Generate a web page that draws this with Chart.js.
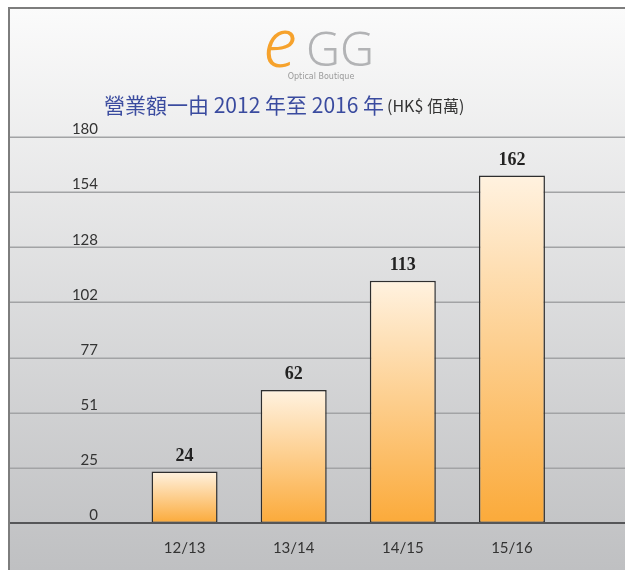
<!DOCTYPE html>
<html>
<head>
<meta charset="utf-8">
<script src="https://cdn.jsdelivr.net/npm/chart.js@4"></script>
<style>
  body { margin: 0; background: #fff; }
</style>
</head>
<body>
<canvas id="chart" width="625" height="570"></canvas>
<script>
// data
const years = ["12/13", "13/14", "14/15", "15/16"];
const turnover = [24, 62, 113, 162];
const yTickLabels = ["0", "25", "51", "77", "102", "128", "154", "180"];
const yMax = 180;

const titleMain = "營業額一由 2012 年至 2016 年";
const titleUnit = "(HK$ 佰萬)";

function barGradient(ctx) {
    const chart = ctx.chart;
    if (!chart.chartArea || !chart.scales.y) return "#fcc77a";
    const y = chart.scales.y;
    const value = ctx.dataset.data[ctx.dataIndex];
    const top = y.getPixelForValue(value);
    const bottom = y.getPixelForValue(0);
    const g = chart.ctx.createLinearGradient(0, top, 0, bottom);
    g.addColorStop(0, "#fff2e0");
    g.addColorStop(1, "#fbaa3a");
    return g;
}

// background, frame, gridlines, logo and title
const backdrop = {
    id: "backdrop",
    beforeDraw(chart) {
        const c = chart.ctx;
        const y = chart.scales.y;
        c.save();
        const g = c.createLinearGradient(0, 7, 0, 570);
        g.addColorStop(0, "#fbfbfb");
        g.addColorStop(1, "#bfc0c2");
        c.fillStyle = g;
        c.fillRect(8, 7, 617, 563);

        c.strokeStyle = "#7d7d7d";
        c.lineWidth = 2;
        c.beginPath();
        c.moveTo(9, 570);
        c.lineTo(9, 8);
        c.lineTo(625, 8);
        c.stroke();

        c.strokeStyle = "#a2a3a5";
        c.lineWidth = 1.5;
        y.ticks.forEach((t, i) => {
            if (i === 0) return;
            const py = Math.round(y.getPixelForValue(t.value)) + 0.25;
            c.beginPath();
            c.moveTo(10, py);
            c.lineTo(625, py);
            c.stroke();
        });

        // logo
        c.textBaseline = "alphabetic";
        c.textAlign = "left";
        c.fillStyle = "#f6a22c";
        c.font = "italic 300 68px 'Noto Sans'";
        c.fillText("e", 263, 67);
        c.fillStyle = "#b2b3b5";
        c.font = "300 47px 'Noto Sans'";
        c.fillText("GG", 306, 66);
        c.fillStyle = "#9a9a9a";
        c.font = "8px 'DejaVu Sans'";
        c.textAlign = "center";
        c.fillText("Optical Boutique", 321, 79);

        // title
        c.textAlign = "left";
        c.textBaseline = "middle";
        c.fillStyle = "#3a4b9f";
        c.font = "21px 'Noto Sans CJK TC'";
        c.fillText(titleMain, 104, 105);
        const w = c.measureText(titleMain).width;
        c.fillStyle = "#333";
        c.font = "16px 'Noto Sans CJK TC'";
        c.fillText(titleUnit, 104 + w + 3, 106);
        c.restore();
    },
    afterDatasetsDraw(chart) {
        const c = chart.ctx;
        const y = chart.scales.y;
        c.save();
        const py = y.getPixelForValue(0);
        c.strokeStyle = "#555658";
        c.lineWidth = 2;
        c.beginPath();
        c.moveTo(10, py);
        c.lineTo(625, py);
        c.stroke();

        c.fillStyle = "#222";
        c.font = "bold 18px 'Liberation Serif'";
        c.textAlign = "center";
        c.textBaseline = "alphabetic";
        chart.getDatasetMeta(0).data.forEach((bar, i) => {
            c.fillText(String(turnover[i]), bar.x, bar.y - 11);
        });
        c.restore();
    }
};

new Chart(document.getElementById("chart"), {
    type: "bar",
    data: {
        labels: years,
        datasets: [{
            label: "營業額",
            data: turnover,
            backgroundColor: barGradient,
            borderColor: "#2e2e2e",
            borderWidth: 1.5,
            borderSkipped: false,
            categoryPercentage: 1,
            barPercentage: 0.605
        }]
    },
    options: {
        responsive: false,
        animation: false,
        devicePixelRatio: 1,
        layout: { padding: { left: 0, right: 58.5, top: 137, bottom: 0 } },
        plugins: {
            legend: { display: false },
            tooltip: { enabled: false }
        },
        scales: {
            x: {
                grid: { display: false },
                border: { display: false },
                afterFit: s => { s.height = 47; },
                ticks: {
                    padding: 8,
                    color: "#333",
                    font: { family: "Lato", size: 15 }
                }
            },
            y: {
                min: 0,
                max: yMax,
                grid: { display: false, drawTicks: false },
                border: { display: false },
                afterFit: s => { s.width = 130; },
                afterBuildTicks: s => {
                    s.ticks = yTickLabels.map((t, i) => ({ value: i * yMax / (yTickLabels.length - 1) }));
                },
                ticks: {
                    callback: (v, i) => yTickLabels[i],
                    padding: 32,
                    labelOffset: -7.5,
                    color: "#333",
                    font: { family: "Lato", size: 15 }
                }
            }
        }
    },
    plugins: [backdrop]
});
</script>
</body>
</html>
